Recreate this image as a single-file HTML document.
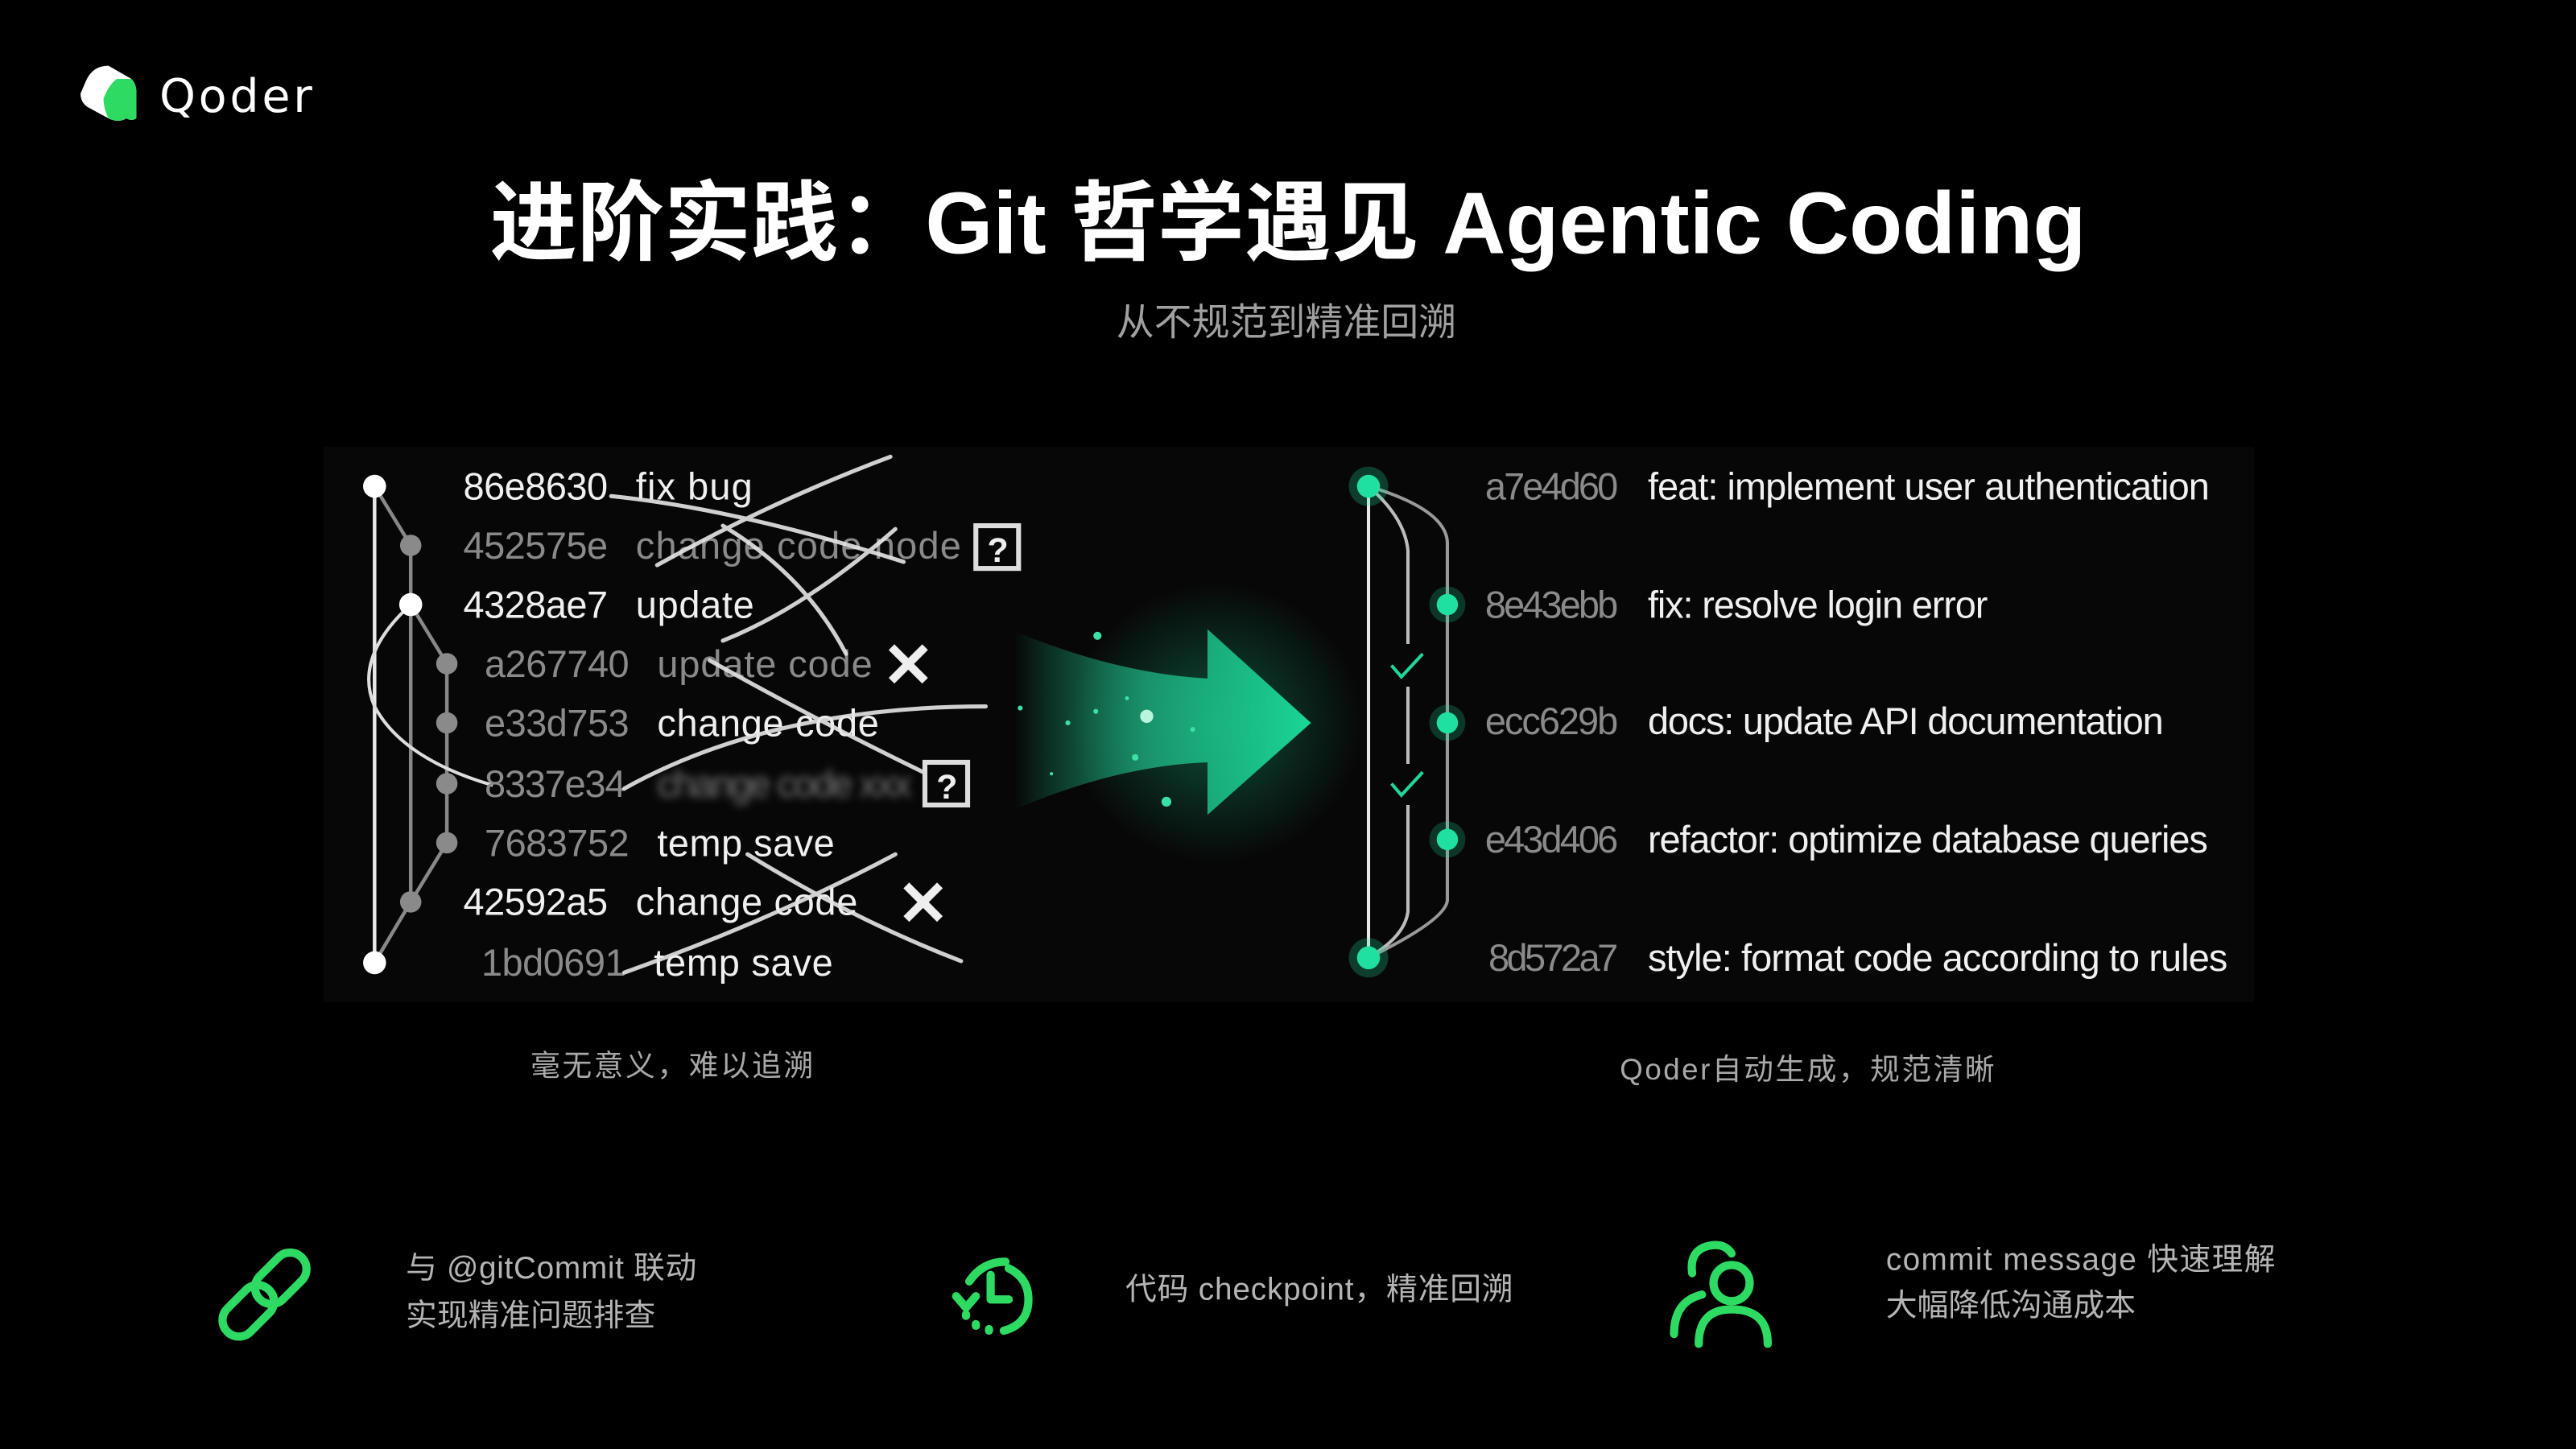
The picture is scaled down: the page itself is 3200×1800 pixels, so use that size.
<!DOCTYPE html>
<html><head><meta charset="utf-8">
<style>
html,body{margin:0;padding:0;background:#000;}
svg{display:block;}
</style></head>
<body>
<svg width="3200" height="1800" viewBox="0 0 1568 882" xmlns="http://www.w3.org/2000/svg">
<defs>
<linearGradient id="ag" x1="617" y1="0" x2="798" y2="0" gradientUnits="userSpaceOnUse">
<stop offset="0" stop-color="#1fd69a" stop-opacity="0"/>
<stop offset="0.45" stop-color="#1fb585" stop-opacity="0.75"/>
<stop offset="1" stop-color="#1ad796"/>
</linearGradient>
<radialGradient id="glow" cx="0.5" cy="0.5" r="0.5">
<stop offset="0" stop-color="#1ad796" stop-opacity="0.35"/>
<stop offset="1" stop-color="#1ad796" stop-opacity="0"/>
</radialGradient>
<filter id="bl" x="-50%" y="-50%" width="200%" height="200%"><feGaussianBlur stdDeviation="2.5"/></filter>
</defs>
<rect width="1568" height="882" fill="#000"/>
<!-- logo -->
<path d="M52,50 Q56,40 66,40 L80,48 Q83,51 83,56 L83,72 Q80,74 77,72 Q72,75 66,72 L53,65 Q49,62 49,57 Z" fill="#fff"/>
<path d="M71,48 L80,48 Q83,51 83,56 L83,72 Q80,74 77,72 Q72,75 66,72 Q63,66 63,60 Q66,52 71,48 Z" fill="#2edb62"/>
<text x="97" y="68" font-family="DejaVu Sans, sans-serif" font-size="28" fill="#fff" textLength="93">Qoder</text>
<!-- title -->
<text x="784" y="154" text-anchor="middle" font-family="Liberation Sans, 'Noto Sans CJK SC', sans-serif" font-size="53" font-weight="bold" fill="#fff">进阶实践：Git 哲学遇见 Agentic Coding</text>
<text x="783" y="204" text-anchor="middle" font-family="Liberation Sans, 'Noto Sans CJK SC', sans-serif" font-size="23" fill="#a0a0a0">从不规范到精准回溯</text>
<!-- panel -->
<rect x="197" y="272" width="1175" height="338" fill="#070707"/>
<!-- left graph -->
<g stroke-width="2.2" fill="none">
<line x1="228" y1="296" x2="228" y2="586" stroke="#e8e8e8"/>
<path d="M228,296 L250,332 L250,549 L228,586" stroke="#888"/>
<path d="M250,368 L272,404 L272,513 L250,549" stroke="#888"/>
<path d="M250,368 Q215,400 228,430 Q245,462 300,478" stroke="#ddd" stroke-width="2"/>
</g>
<g fill="#fff"><circle cx="228" cy="296" r="7"/><circle cx="250" cy="368" r="7"/><circle cx="228" cy="586" r="7"/></g>
<g fill="#8a8a8a"><circle cx="250" cy="332" r="6.5"/><circle cx="250" cy="549" r="6.5"/><circle cx="272" cy="404" r="6.5"/><circle cx="272" cy="440" r="6.5"/><circle cx="272" cy="477" r="6.5"/><circle cx="272" cy="513" r="6.5"/></g>
<g font-family="'Liberation Sans Narrow','Liberation Sans',sans-serif" font-size="23">
<text x="282" y="304" fill="#f0f0f0" textLength="88">86e8630</text><text x="387" y="304" fill="#f0f0f0" textLength="71">fix bug</text>
<text x="282" y="340" fill="#8a8a8a" textLength="88">452575e</text><text x="387" y="340" fill="#8a8a8a" textLength="198">change code node</text>
<text x="282" y="376" fill="#f0f0f0" textLength="88">4328ae7</text><text x="387" y="376" fill="#f0f0f0" textLength="72">update</text>
<text x="295" y="412" fill="#8a8a8a" textLength="88">a267740</text><text x="400" y="412" fill="#8a8a8a" textLength="131">update code</text>
<text x="295" y="448" fill="#8a8a8a" textLength="88">e33d753</text><text x="400" y="448" fill="#f0f0f0" textLength="135">change code</text>
<text x="295" y="485" fill="#8a8a8a" textLength="86">8337e34</text><text x="400" y="485" fill="#777" textLength="155" filter="url(#bl)">change code xxx</text>
<text x="295" y="521" fill="#8a8a8a" textLength="88">7683752</text><text x="400" y="521" fill="#f0f0f0" textLength="108">temp save</text>
<text x="282" y="557" fill="#f0f0f0" textLength="88">42592a5</text><text x="387" y="557" fill="#f0f0f0" textLength="135">change code</text>
<text x="293" y="594" fill="#8a8a8a" textLength="88">1bd0691</text><text x="398" y="594" fill="#f0f0f0" textLength="109">temp save</text>
</g>
<!-- scribbles -->
<g stroke="#e6e6e6" stroke-width="2.5" fill="none" stroke-linecap="round" opacity="0.9">
<path d="M372,302 Q450,310 550,342"/>
<path d="M542,278 Q470,305 400,344"/>
<path d="M440,320 Q490,350 515,398"/>
<path d="M545,322 Q490,370 440,390"/>
<path d="M432,402 Q500,440 562,470"/>
<path d="M380,480 Q470,430 600,430"/>
<path d="M455,520 Q520,560 585,585"/>
<path d="M545,520 Q470,560 380,592"/>
</g>
<g font-family="Liberation Sans, sans-serif" font-weight="bold" fill="#eee">
<rect x="594" y="320" width="26" height="26" fill="none" stroke="#ddd" stroke-width="3"/><text x="601" y="342" font-size="21">?</text>
<rect x="563" y="464" width="26" height="26" fill="none" stroke="#ddd" stroke-width="3"/><text x="570" y="486" font-size="21">?</text>
<text x="537" y="418" font-size="38">✕</text>
<text x="546" y="563" font-size="38">✕</text>
</g>
<!-- arrow -->
<ellipse cx="740" cy="440" rx="90" ry="85" fill="url(#glow)"/>
<path d="M617,384 Q680,410 735,413 L735,383 L798,440 L735,496 L735,464 Q680,466 617,493 Z" fill="url(#ag)"/>
<g fill="#3be0a6">
<circle cx="668" cy="387" r="2.5"/><circle cx="698" cy="436" r="4" fill="#b8f5dc"/><circle cx="710" cy="488" r="3"/><circle cx="726" cy="444" r="1.5"/><circle cx="691" cy="461" r="2"/><circle cx="667" cy="433" r="1.5"/><circle cx="650" cy="440" r="1.5"/><circle cx="621" cy="431" r="1.5"/><circle cx="640" cy="471" r="1"/><circle cx="686" cy="425" r="1.2"/>
</g>
<!-- right graph -->
<g fill="none" stroke-width="2">
<line x1="833" y1="296" x2="833" y2="583" stroke="#e8e8e8"/>
<path d="M833,296 Q855,315 857,335 L857,392 M857,418 L857,465 M857,490 L857,555 Q855,570 833,583" stroke="#bbb"/>
<path d="M833,296 Q880,310 881,330 L881,548 Q880,560 833,583" stroke="#999"/>
<path d="M847,405 L853,412 L866,398 M847,477 L853,484 L866,470" stroke="#1fd69a"/>
</g>
<g fill="#1fe0a0">
<circle cx="833" cy="296" r="12" opacity="0.25"/><circle cx="833" cy="583" r="12" opacity="0.25"/>
<circle cx="881" cy="368" r="11" opacity="0.22"/><circle cx="881" cy="440" r="11" opacity="0.22"/><circle cx="881" cy="511" r="11" opacity="0.22"/>
<circle cx="833" cy="296" r="7"/><circle cx="833" cy="583" r="7"/>
<circle cx="881" cy="368" r="6.5"/><circle cx="881" cy="440" r="6.5"/><circle cx="881" cy="511" r="6.5"/>
</g>
<g font-family="'Liberation Sans Narrow','Liberation Sans',sans-serif" font-size="23">
<text x="904" y="304" fill="#8a8a8a" textLength="81">a7e4d60</text><text x="1003" y="304" fill="#f0f0f0" textLength="342">feat: implement user authentication</text>
<text x="904" y="376" fill="#8a8a8a" textLength="81">8e43ebb</text><text x="1003" y="376" fill="#f0f0f0" textLength="207">fix: resolve login error</text>
<text x="904" y="447" fill="#8a8a8a" textLength="81">ecc629b</text><text x="1003" y="447" fill="#f0f0f0" textLength="314">docs: update API documentation</text>
<text x="904" y="519" fill="#8a8a8a" textLength="81">e43d406</text><text x="1003" y="519" fill="#f0f0f0" textLength="341">refactor: optimize database queries</text>
<text x="906" y="591" fill="#8a8a8a" textLength="79">8d572a7</text><text x="1003" y="591" fill="#f0f0f0" textLength="353">style: format code according to rules</text>
</g>
<!-- captions -->
<g font-family="Liberation Sans, 'Noto Sans CJK SC', sans-serif" font-size="18" fill="#a8a8a8">
<text x="409" y="655" text-anchor="middle" textLength="172">毫无意义，难以追溯</text>
<text x="1100" y="657" text-anchor="middle" textLength="228">Qoder自动生成，规范清晰</text>
</g>
<!-- bottom icons -->
<g fill="none" stroke="#2edb62" stroke-width="5" stroke-linecap="round" stroke-linejoin="round">
<g transform="rotate(-45 161 788)">
<rect x="129" y="778" width="36" height="20" rx="10"/>
<rect x="157" y="778" width="36" height="20" rx="10"/>
</g>
<path d="M614,772 Q626,778 626,791 Q626,806 611,810"/>
<path d="M590,780 Q598,768 612,768"/>
<path d="M603,776 L603,791 L614,791"/>
<path d="M582,789 L588,796 L594,789" />
<path d="M588,800 L588,801 M594,806 L594,807 M602,809 L602,810" />
<circle cx="1054" cy="781" r="11"/>
<path d="M1034,818 Q1034,797 1054,797 Q1076,797 1076,818"/>
<path d="M1030,775 Q1028,760 1042,758 Q1050,757 1054,763"/>
<path d="M1019,812 Q1019,792 1036,788"/>
</g>
<g font-family="Liberation Sans, 'Noto Sans CJK SC', sans-serif" font-size="19" fill="#b4b4b4">
<text x="247" y="778" textLength="177">与 @gitCommit 联动</text>
<text x="247" y="807">实现精准问题排查</text>
<text x="685" y="791" textLength="236">代码 checkpoint，精准回溯</text>
<text x="1148" y="773" textLength="237">commit message 快速理解</text>
<text x="1148" y="801">大幅降低沟通成本</text>
</g>
</svg>
</body></html>
